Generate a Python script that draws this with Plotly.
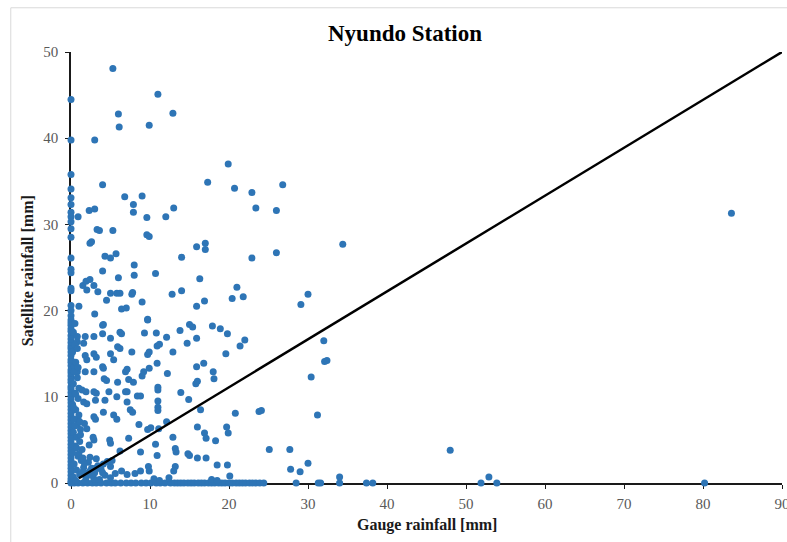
import plotly.graph_objects as go

# Days with no gauge rainfall (gauge = 0 mm): satellite estimates [mm]
sat_when_gauge_zero = [
    44.5, 39.8, 35.8, 34.1, 33.1, 32.3, 31.4, 30.9, 30.3, 29.5, 28.5, 26.1,
    24.8, 24.4, 22.6, 22.3, 20.6, 20.0, 19.4, 18.9, 18.6, 18.3, 17.9, 17.6,
    17.1, 16.7, 16.3, 15.9, 15.6, 15.2, 14.8, 14.3, 14.0, 13.6, 13.1, 12.8,
    12.4, 12.0, 11.7, 11.2, 10.9, 10.5, 10.1, 9.7, 9.3, 8.9, 8.5, 8.1, 7.7,
    7.3, 6.9, 6.5, 6.1, 5.7, 5.3, 4.9, 4.5, 4.1, 3.7, 3.3, 2.9, 2.5, 2.1,
    1.7, 1.3, 0.9, 0.5, 0.2, 0.0,
]

# Days with no satellite rainfall (satellite = 0 mm): gauge observations [mm]
gauge_when_sat_zero = [
    0.4, 0.9, 1.5, 2.1, 2.7, 3.2, 3.8, 4.5, 5.1, 5.6, 6.3, 7.0, 7.6, 8.2,
    8.9, 9.5, 10.1, 10.8, 11.3, 11.9, 12.6, 13.1, 13.5, 13.9, 14.3, 14.8,
    15.2, 15.6, 16.1, 16.5, 16.9, 17.4, 17.8, 18.2, 18.7, 19.1, 19.5, 20.0,
    20.4, 20.9, 21.3, 21.7, 22.1, 22.6, 23.0, 23.4, 23.9, 24.4, 28.5, 31.3,
    31.6, 34.0, 37.4, 38.2, 51.9, 53.9, 80.2,
]

# Days where both sources recorded rain: gauge [mm] and satellite [mm]
gauge_mm = [
    5.3, 11.0, 6.0, 12.9, 6.1, 9.9, 3.0, 19.9, 17.3, 4.0, 6.8, 9.0, 20.7, 22.9,
    26.8, 23.4, 26.0, 7.9, 7.9, 0.9, 2.3, 3.0, 13.0, 12.0, 9.6, 3.3, 3.6, 5.3,
    9.6, 9.9, 2.4, 2.6, 15.9, 17.0, 17.0, 4.3, 5.0, 5.7, 14.0, 22.9, 26.0, 34.4,
    8.0, 4.0, 8.0, 10.7, 6.0, 16.3, 1.5, 1.9, 2.4, 2.0, 2.9, 3.4, 5.0, 5.8,
    6.2, 7.7, 7.8, 4.5, 9.0, 12.8, 14.0, 21.0, 20.4, 21.8, 16.9, 15.9, 30.0,
    29.1, 1.0, 3.0, 6.4, 7.0, 9.7, 4.1, 15.0, 15.4, 17.9, 18.9, 19.8, 13.8,
    14.7, 15.9, 22.0, 21.4, 32.0, 32.1, 32.4, 30.4, 23.8, 24.1, 31.2, 25.1,
    27.7, 27.8, 29.0, 30.0, 34.0, 48.0, 52.9, 83.6,
    4.0, 6.2, 6.4, 9.7, 9.3, 10.8, 4.0, 1.8, 2.9, 0.8, 1.6, 5.0, 12.1, 5.9,
    6.2, 7.7, 9.7, 9.9, 10.9, 11.2, 12.9, 19.6, 1.8, 2.0, 2.9, 3.2, 5.0, 5.4,
    4.0, 4.1, 0.4, 0.8, 1.8, 2.9, 6.9, 7.1, 9.2, 9.0, 9.9, 10.9, 12.2, 15.9,
    16.8, 18.0, 18.1, 4.2, 4.5, 5.9, 7.9, 7.3, 15.8, 16.0, 1.4, 1.9, 2.9, 3.2,
    4.8, 6.9, 7.1, 8.4, 8.8, 11.0, 11.0, 13.9, 14.9, 1.6, 2.0, 3.1, 4.3, 5.8,
    7.1, 7.5, 7.8, 11.0, 11.0, 11.0, 4.1, 2.9, 3.1, 5.4, 5.8, 16.4, 20.8, 0.9,
    1.7, 2.0, 8.6, 9.7, 10.1, 11.1, 12.1, 16.0, 16.9, 17.1, 18.3, 19.7, 19.9,
    2.8, 2.9, 4.9, 5.0, 7.3, 6.2, 8.8, 10.7, 12.9, 13.2, 13.3, 14.8, 15.0,
    16.0, 17.1, 18.5, 19.8, 10.9, 9.8, 9.9, 13.2, 13.0, 8.1, 8.8, 6.4, 7.1,
    5.2, 5.0, 3.7, 3.1, 2.4, 2.0, 4.1, 20.1, 17.8, 18.5,
    0.3, 0.5, 0.2, 0.6, 0.4, 0.8, 0.3, 0.5, 0.9, 0.2, 0.6, 1.0, 0.4, 0.8, 1.2,
    0.3, 0.7, 1.1, 0.5, 1.4, 0.2, 0.9, 1.3, 0.4, 1.6, 0.7, 1.1, 0.3, 1.9, 0.6,
    0.8, 0.5, 0.9, 1.0, 2.2, 2.6, 3.0, 3.4, 3.8, 4.3, 2.9, 3.6, 4.6, 2.4, 3.2,
    1.7, 4.0, 5.0, 5.6, 1.5, 10.5, 11.2, 12.4,
    0.5, 0.7, 1.0, 0.3, 1.2, 0.6, 1.5, 2.3, 1.1, 0.8, 2.6, 1.8,
]
sat_mm = [
    48.1, 45.1, 42.8, 42.9, 41.3, 41.5, 39.8, 37.0, 34.9, 34.6, 33.2, 33.3,
    34.2, 33.7, 34.6, 31.9, 31.6, 32.3, 31.4, 30.9, 31.6, 31.8, 31.9, 30.9,
    30.8, 29.4, 29.3, 29.3, 28.8, 28.6, 27.8, 28.0, 27.4, 27.8, 27.1, 26.3,
    26.1, 26.6, 26.2, 26.1, 26.7, 27.7, 25.3, 24.6, 24.1, 24.3, 23.8, 23.7,
    22.9, 23.4, 23.6, 22.4, 22.9, 22.2, 22.0, 22.0, 22.0, 21.9, 22.1, 21.2,
    21.0, 21.9, 22.3, 22.7, 21.4, 21.6, 21.1, 20.5, 21.9, 20.7, 20.5, 19.6,
    20.2, 20.3, 19.0, 18.4, 18.4, 18.1, 18.2, 17.9, 17.3, 17.7, 16.2, 16.8,
    16.6, 15.9, 16.5, 14.1, 14.2, 12.3, 8.3, 8.4, 7.9, 3.9, 3.9, 1.6, 1.3,
    2.3, 0.7, 3.8, 0.7, 31.3,
    18.3, 17.5, 17.3, 18.9, 17.4, 17.4, 17.3, 17.0, 17.0, 16.4, 16.2, 16.8,
    16.9, 15.8, 15.6, 15.2, 14.9, 15.2, 15.9, 16.1, 15.2, 15.0, 14.8, 14.3,
    15.0, 14.6, 15.0, 14.3, 13.5, 13.3, 13.5, 12.9, 12.9, 12.9, 12.9, 13.2,
    12.9, 12.4, 13.3, 13.9, 12.7, 13.5, 13.9, 12.9, 12.1, 12.1, 11.9, 11.7,
    11.7, 12.0, 11.5, 11.8, 10.8, 10.6, 10.6, 10.4, 10.6, 10.6, 10.6, 10.1,
    10.1, 11.1, 10.8, 10.5, 9.7, 9.4, 9.2, 9.6, 9.6, 10.0, 9.4, 8.5, 8.2, 9.5,
    8.8, 8.4, 8.2, 7.7, 7.4, 7.9, 7.4, 8.5, 8.1, 7.3, 6.9, 6.3, 6.8, 6.2, 6.4,
    6.3, 7.1, 6.5, 5.8, 5.2, 4.9, 6.5, 5.8, 5.3, 5.0, 5.0, 4.6, 5.2, 3.7, 3.6,
    4.5, 5.3, 4.0, 3.6, 3.4, 3.2, 2.9, 2.9, 2.1, 2.1, 3.2, 1.9, 1.4, 1.9, 1.4,
    1.1, 1.4, 1.4, 1.0, 2.6, 1.9, 1.9, 1.7, 1.4, 1.1, 2.2, 0.8, 0.4, 0.3,
    17.5, 16.0, 15.2, 14.0, 12.9, 12.2, 11.5, 10.4, 9.8, 9.1, 8.5, 7.9, 7.4,
    6.8, 6.2, 5.9, 5.3, 4.8, 4.3, 3.9, 3.5, 3.1, 2.6, 2.2, 1.8, 1.5, 1.0, 0.7,
    0.6, 0.3, 17.0, 18.5, 13.4, 11.0, 2.4, 1.7, 1.2, 2.0, 1.6, 0.9, 0.5, 0.4,
    2.5, 3.0, 2.8, 2.3, 1.2, 0.6, 1.1, 1.3, 0.5, 0.3, 0.6,
    6.6, 4.1, 3.4, 8.8, 5.6, 10.3, 2.9, 4.4, 7.1, 15.6, 0.9, 0.2,
]

# Reference line drawn across the chart
line_x = [1, 90]
line_y = [0.556, 50]

all_x = [0.0] * len(sat_when_gauge_zero) + gauge_when_sat_zero + gauge_mm
all_y = sat_when_gauge_zero + [0.0] * len(gauge_when_sat_zero) + sat_mm

SERIF = "Liberation Serif, Times New Roman, serif"

fig = go.Figure()
fig.add_trace(go.Scatter(
    x=all_x, y=all_y, mode="markers",
    marker=dict(color="#2E75B6", size=7, line=dict(width=0)),
    cliponaxis=False, showlegend=False,
))
fig.add_trace(go.Scatter(
    x=line_x, y=line_y, mode="lines",
    line=dict(color="black", width=2.5),
    cliponaxis=False, showlegend=False,
))

axis_common = dict(
    showgrid=False, zeroline=False, showline=True, linecolor="#1a1a1a",
    linewidth=1.5, ticks="outside", ticklen=4, tickwidth=1.2,
    tickcolor="#1a1a1a", layer="below traces", ticklabeloverflow="allow",
    automargin=False,
    tickfont=dict(family=SERIF, size=15, color="#595959"),
)

fig.update_layout(
    width=787, height=542,
    margin=dict(l=70.7, r=5.3, t=51.7, b=59.3, autoexpand=False),
    paper_bgcolor="white", plot_bgcolor="white",
    xaxis=dict(range=[0, 90], dtick=10, ticklabelstandoff=2, **axis_common),
    yaxis=dict(range=[0, 50], dtick=10, ticklabelstandoff=4, **axis_common),
    annotations=[
        dict(text="<b>Nyundo Station</b>", xref="paper", yref="paper",
             x=0.470, y=1.0434, xanchor="center", yanchor="middle",
             showarrow=False, font=dict(family=SERIF, size=23, color="black")),
        dict(text="<b>Gauge rainfall [mm]</b>", xref="paper", yref="paper",
             x=0.5, y=-0.098, xanchor="center", yanchor="middle",
             showarrow=False, font=dict(family=SERIF, size=16, color="#1a1a1a")),
        dict(text="<b>Satellite rainfall [mm]</b>", xref="paper", yref="paper",
             x=-0.062, y=0.4935, xanchor="center", yanchor="middle",
             textangle=-90, showarrow=False,
             font=dict(family=SERIF, size=16, color="#1a1a1a")),
    ],
    shapes=[
        dict(type="rect", xref="paper", yref="paper",
             x0=-0.0847, x1=1.2, y0=-0.5, y1=1.1026,
             line=dict(color="#D9D9D9", width=1), fillcolor="rgba(0,0,0,0)",
             layer="below"),
    ],
)

fig.write_html("out.html")
